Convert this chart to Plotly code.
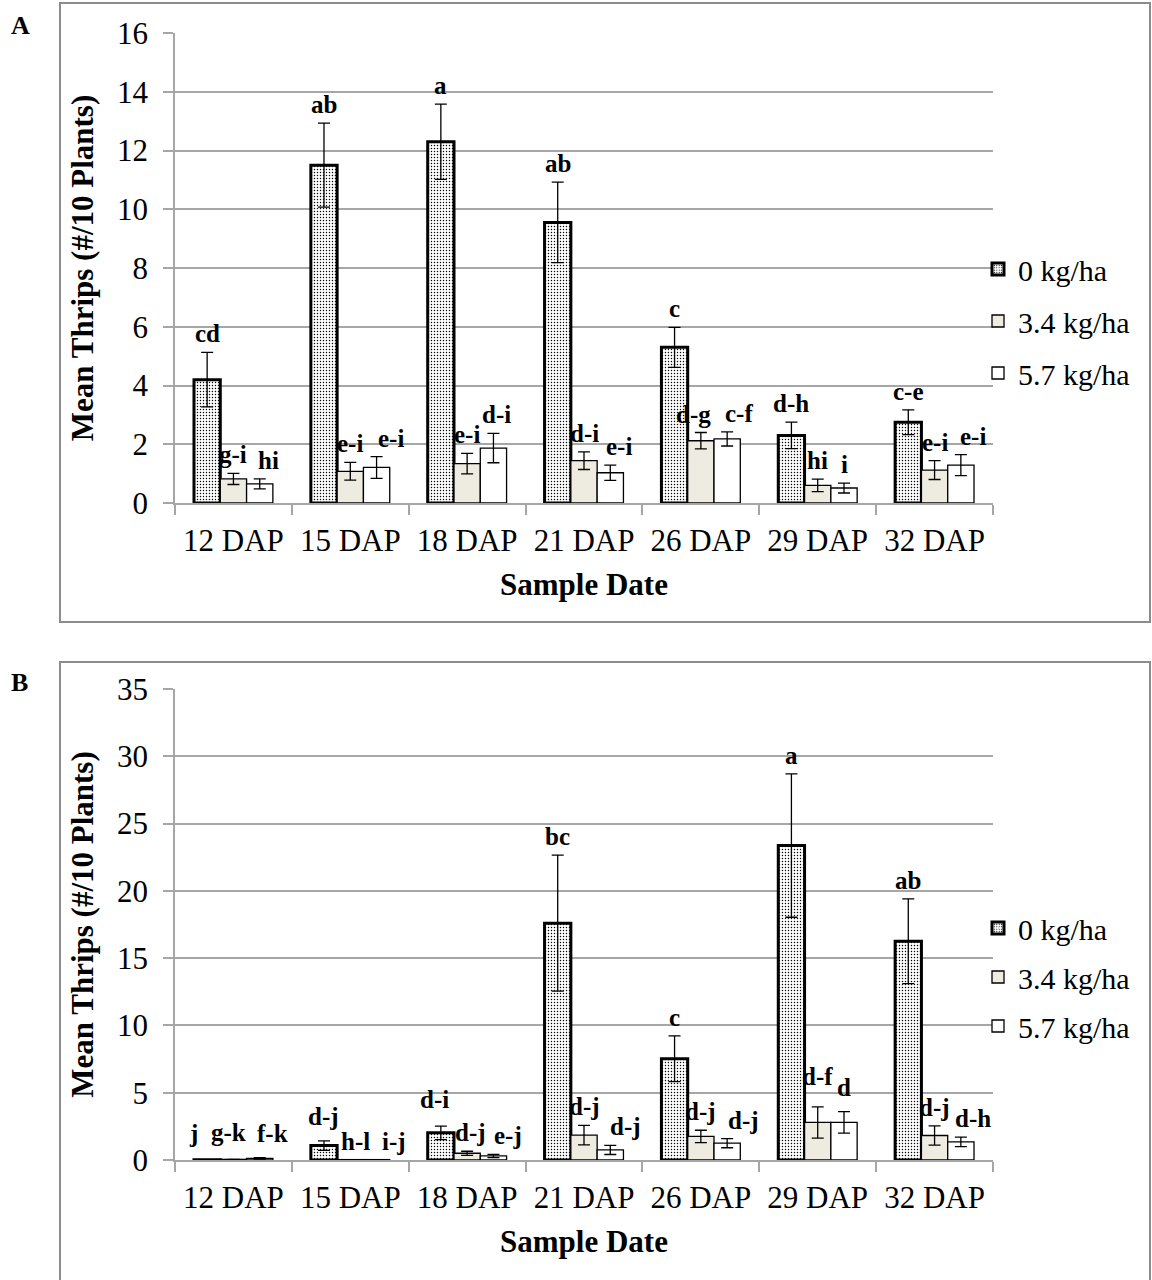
import plotly.graph_objects as go

categories = ["12 DAP", "15 DAP", "18 DAP", "21 DAP", "26 DAP", "29 DAP", "32 DAP"]
series_names = ["0 kg/ha", "3.4 kg/ha", "5.7 kg/ha"]

# Panel A
a0 = [4.2, 11.5, 12.3, 9.55, 5.3, 2.3, 2.75]
a0_err = [0.93, 1.43, 1.28, 1.37, 0.68, 0.45, 0.42]
a34 = [0.82, 1.08, 1.34, 1.44, 2.12, 0.6, 1.12]
a34_err = [0.19, 0.3, 0.35, 0.3, 0.28, 0.21, 0.32]
a57 = [0.65, 1.21, 1.87, 1.03, 2.18, 0.51, 1.29]
a57_err = [0.17, 0.37, 0.5, 0.26, 0.24, 0.17, 0.36]
a0_lab = ["cd", "ab", "a", "ab", "c", "d-h", "c-e"]
a34_lab = ["g-i", "e-i", "e-i", "d-i", "d-g", "hi", "e-i"]
a57_lab = ["hi", "e-i", "d-i", "e-i", "c-f", "i", "e-i"]

# Panel B
b0 = [0.02, 1.07, 2.02, 17.6, 7.53, 23.37, 16.26]
b0_err = [0.0, 0.35, 0.5, 5.05, 1.7, 5.33, 3.15]
b34 = [0.05, 0.03, 0.5, 1.85, 1.75, 2.79, 1.82]
b34_err = [0.0, 0.0, 0.15, 0.72, 0.46, 1.16, 0.72]
b57 = [0.12, 0.03, 0.3, 0.75, 1.25, 2.79, 1.35]
b57_err = [0.05, 0.0, 0.12, 0.34, 0.34, 0.8, 0.35]
b0_lab = ["j", "d-j", "d-i", "bc", "c", "a", "ab"]
b34_lab = ["g-k", "h-l", "d-j", "d-j", "d-j", "d-f", "d-j"]
b57_lab = ["f-k", "i-j", "e-j", "d-j", "d-j", "d", "d-h"]

# label placement nudges (pixels) to mimic the original label layout
a_nudge_x = [[0, 0, 0, 0, 0, 0, 0], [0, 0, 0, 0, -7, 0, 0], [9, 14, 3, 9, 12, 0, 12]]
b_nudge_x = [[-14, 0, -6, 0, 0, 0, 0], [-5, 5, 3, 0, 0, 0, 0], [13, 17, 15, 15, 16, 0, 12]]
a_nudge_y = [[0] * 7, [0] * 7, [0] * 7]
b_nudge_y = [[8, 6, 8, 0, 0, 0, 0], [8, 0, 0, 0, 0, 12, 0], [6, 0, 0, 0, 0, 6, 0]]

W, H = 1152, 1280
FONT = "Liberation Serif, Times New Roman, serif"
GRID = "#a6a6a6"


def px_x(p):
    return p / W


def px_y(p):
    return 1 - p / H


styles = [
    dict(marker=dict(color="white", line=dict(color="black", width=3),
                     pattern=dict(shape=".", size=3, solidity=0.18,
                                  fgcolor="black", bgcolor="white", fillmode="replace"))),
    dict(marker=dict(color="#eeece1", line=dict(color="black", width=1.3))),
    dict(marker=dict(color="white", line=dict(color="black", width=1.3))),
]

fig = go.Figure()

panels = [
    dict(vals=[a0, a34, a57], errs=[a0_err, a34_err, a57_err],
         labs=[a0_lab, a34_lab, a57_lab], nx=a_nudge_x, ny=a_nudge_y,
         xa="x", ya="y", legend="legend"),
    dict(vals=[b0, b34, b57], errs=[b0_err, b34_err, b57_err],
         labs=[b0_lab, b34_lab, b57_lab], nx=b_nudge_x, ny=b_nudge_y,
         xa="x2", ya="y2", legend="legend2"),
]

group_w = 0.675
bar_w = group_w / 3
annotations = []
for pi, p in enumerate(panels):
    for si in range(3):
        fig.add_trace(go.Bar(
            x=categories, y=p["vals"][si], name=series_names[si],
            xaxis=p["xa"], yaxis=p["ya"], legend=p["legend"],
            legendgroup=f"g{pi}{si}",
            error_y=dict(type="data", array=p["errs"][si], color="black",
                         thickness=1.3, width=6, visible=True),
            **styles[si]))
        for ci, cat in enumerate(categories):
            annotations.append(dict(
                x=ci + (si - 1) * bar_w, y=p["vals"][si][ci] + p["errs"][si][ci],
                xref=p["xa"], yref=p["ya"], text=f"<b>{p['labs'][si][ci]}</b>",
                showarrow=False, yanchor="bottom", xanchor="center",
                xshift=p["nx"][si][ci], yshift=3 + p["ny"][si][ci],
                font=dict(family=FONT, size=25, color="black")))

axis_common = dict(showline=True, linecolor=GRID, linewidth=1.5,
                   ticks="outside", tickcolor=GRID, ticklen=10, tickwidth=1.5,
                   tickfont=dict(family=FONT, size=31, color="black"),
                   automargin=False)
title_font = dict(family=FONT, size=31, color="black")

# panel A: plot area x 175..993, y 33..503 ; panel B: y 689..1160 (reference pixels)
fig.update_layout(
    width=W, height=H, autosize=False,
    margin=dict(l=0, r=0, t=0, b=0),
    paper_bgcolor="white", plot_bgcolor="white",
    barmode="group", bargap=1 - group_w, bargroupgap=0,
    xaxis=dict(domain=[px_x(175), px_x(993)], anchor="y", tickson="boundaries",
               showgrid=False, ticklabelstandoff=9,
               title=dict(text="<b>Sample Date</b>", font=title_font, standoff=16),
               **axis_common),
    yaxis=dict(domain=[px_y(503), px_y(33)], anchor="x", range=[0, 16], dtick=2,
               showgrid=True, gridcolor=GRID, gridwidth=1.5, zeroline=False,
               ticklabelstandoff=9,
               title=dict(text="<b>Mean Thrips (#/10 Plants)</b>", font=title_font, standoff=14),
               **axis_common),
    xaxis2=dict(domain=[px_x(175), px_x(993)], anchor="y2", tickson="boundaries",
                showgrid=False, ticklabelstandoff=9,
                title=dict(text="<b>Sample Date</b>", font=title_font, standoff=16),
                **axis_common),
    yaxis2=dict(domain=[px_y(1160), px_y(689)], anchor="x2", range=[0, 35], dtick=5,
                showgrid=True, gridcolor=GRID, gridwidth=1.5, zeroline=False,
                ticklabelstandoff=9,
                title=dict(text="<b>Mean Thrips (#/10 Plants)</b>", font=title_font, standoff=14),
                **axis_common),
    legend=dict(x=px_x(978), y=px_y(321), xanchor="left", yanchor="middle",
                font=dict(family=FONT, size=30, color="black"), bgcolor="rgba(0,0,0,0)",
                tracegroupgap=10, itemwidth=30),
    legend2=dict(x=px_x(978), y=px_y(977), xanchor="left", yanchor="middle",
                 font=dict(family=FONT, size=30, color="black"), bgcolor="rgba(0,0,0,0)",
                 tracegroupgap=7, itemwidth=30),
    showlegend=True,
)

shapes = [
    dict(type="rect", xref="paper", yref="paper", x0=px_x(60), x1=px_x(1150),
         y0=px_y(622), y1=px_y(3), line=dict(color="#8c8c8c", width=2)),
    dict(type="rect", xref="paper", yref="paper", x0=px_x(60), x1=px_x(1150),
         y0=px_y(1290), y1=px_y(662), line=dict(color="#8c8c8c", width=2)),
]
annotations += [
    dict(x=px_x(9), y=px_y(25), xref="paper", yref="paper", text="<b>A</b>",
         showarrow=False, xanchor="left", yanchor="middle",
         font=dict(family=FONT, size=26, color="black")),
    dict(x=px_x(9), y=px_y(682), xref="paper", yref="paper", text="<b>B</b>",
         showarrow=False, xanchor="left", yanchor="middle",
         font=dict(family=FONT, size=26, color="black")),
]
fig.update_layout(shapes=shapes, annotations=annotations)

fig.write_html("out.html", config={"displayModeBar": False},
               post_script="document.body.style.margin='0';document.body.style.overflow='hidden';")
